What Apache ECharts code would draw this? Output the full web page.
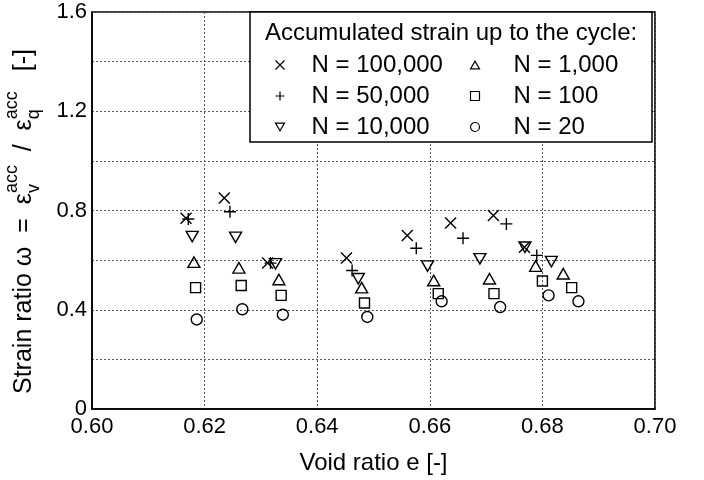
<!DOCTYPE html>
<html>
<head>
<meta charset="utf-8">
<script src="https://cdn.jsdelivr.net/npm/echarts@6/dist/echarts.min.js"></script>
<style>
html, body { margin: 0; padding: 0; background: #fff; }
#chart { width: 704px; height: 480px; }
</style>
</head>
<body>
<div id="chart"></div>
<script>
// cycle labels (legend) in the order of the series
var cycleNames = ['N = 100,000', 'N = 50,000', 'N = 10,000', 'N = 1,000', 'N = 100', 'N = 20'];

// void ratio e and strain ratio omega, one pair of arrays per N
var e100k = [0.6167, 0.6235, 0.6312, 0.6452, 0.6560, 0.6637, 0.6713, 0.6768];
var w100k = [0.769, 0.850, 0.588, 0.609, 0.699, 0.750, 0.780, 0.652];
var e50k = [0.6171, 0.6245, 0.6317, 0.6462, 0.6576, 0.6659, 0.6736, 0.6790];
var w50k = [0.766, 0.795, 0.588, 0.558, 0.648, 0.688, 0.746, 0.619];
var e10k = [0.6178, 0.6255, 0.6326, 0.6473, 0.6596, 0.6689, 0.6769, 0.6816];
var w10k = [0.695, 0.692, 0.585, 0.525, 0.576, 0.605, 0.652, 0.594];
var e1k = [0.6181, 0.6261, 0.6332, 0.6479, 0.6607, 0.6706, 0.6788, 0.6837];
var w1k = [0.592, 0.569, 0.522, 0.489, 0.518, 0.525, 0.576, 0.545];
var e100 = [0.6184, 0.6265, 0.6336, 0.6484, 0.6615, 0.6714, 0.6800, 0.6852];
var w100 = [0.489, 0.498, 0.458, 0.427, 0.465, 0.465, 0.516, 0.489];
var e20 = [0.6186, 0.6267, 0.6339, 0.6489, 0.6621, 0.6725, 0.6811, 0.6864];
var w20 = [0.361, 0.402, 0.380, 0.371, 0.434, 0.411, 0.458, 0.434];

var FONT = '"Liberation Sans", Arial, sans-serif';

function pairs(xs, ys) {
    return xs.map(function (x, i) { return [x, ys[i]]; });
}

var symbols = [
    'path://M0,0L10,10M10,0L0,10',          // x
    'path://M5,0L5,10M0,5L10,5',            // +
    'path://M0,0L12,0L6,10.4Z',             // down triangle
    'path://M6,0L12,10.4L0,10.4Z',          // up triangle
    'path://M0,0L10,0L10,10L0,10Z',         // square
    'circle'
];
var sizes = [11, 12, [12, 10.5], [12, 10.5], 10, 11];
var dataSets = [pairs(e100k, w100k), pairs(e50k, w50k), pairs(e10k, w10k),
                pairs(e1k, w1k), pairs(e100, w100), pairs(e20, w20)];

var series = cycleNames.map(function (name, i) {
    return {
        name: name,
        type: 'scatter',
        symbol: symbols[i],
        symbolSize: sizes[i],
        itemStyle: { color: 'none', borderColor: '#000', borderWidth: 1.4, opacity: 1 },
        emphasis: { disabled: true },
        data: dataSets[i]
    };
});

// y axis title with stacked super/subscripts, drawn rotated
var ctx = document.createElement('canvas').getContext('2d');
function textWidth(t, size) {
    ctx.font = size + 'px ' + FONT;
    return ctx.measureText(t).width;
}
var yParts = [];
var cursor = 0;
function put(t, size, dy) {
    yParts.push({
        type: 'text', x: cursor, y: dy,
        style: { text: t, fontSize: size, fontFamily: FONT, fill: '#000',
                 textAlign: 'left', textVerticalAlign: 'middle', align: 'left', verticalAlign: 'middle' }
    });
}
var mainSize = 25, smallSize = 18;
put('Strain ratio \u03c9  =  \u03b5', mainSize, 0);
cursor += textWidth('Strain ratio \u03c9  =  \u03b5', mainSize);
put('acc', smallSize, -12);
put('v', smallSize, 10);
cursor += textWidth('acc', smallSize);
put('  /  \u03b5', mainSize, 0);
cursor += textWidth('  /  \u03b5', mainSize);
put('acc', smallSize, -12);
put('q', smallSize, 10);
cursor += textWidth('acc', smallSize) + 20;
put('[-]', mainSize, 0);

function legendBlock(names, left, gap) {
    return {
        data: names,
        orient: 'vertical', left: left, top: 53, padding: 0,
        itemWidth: 9, itemHeight: 9, itemGap: 7, z: 6,
        selectedMode: false,
        itemStyle: { borderWidth: 1.2, borderColor: '#000' },
        textStyle: { fontSize: 24, fontFamily: FONT, color: '#000', lineHeight: 24,
                     rich: { g: { width: gap, height: 10 } } },
        formatter: function (n) { return '{g|}' + n; }
    };
}

var chart = echarts.init(document.getElementById('chart'));
var option = {
    animation: false,
    backgroundColor: '#fff',
    grid: {
        left: 92, right: 49, top: 12, bottom: 69,
        show: true, borderColor: '#000', borderWidth: 1.6, backgroundColor: 'transparent'
    },
    xAxis: {
        type: 'value',
        min: 0.6, max: 0.7, interval: 0.02,
        name: 'Void ratio e [-]',
        nameLocation: 'middle',
        nameGap: 42,
        nameTextStyle: { fontSize: 24, fontFamily: FONT, color: '#000' },
        axisLine: { show: true, lineStyle: { color: '#000', width: 1.6 } },
        axisTick: { show: false },
        axisLabel: {
            fontSize: 22, fontFamily: FONT, color: '#000', margin: 7,
            formatter: function (v) { return v.toFixed(2); }
        },
        splitLine: { show: true, lineStyle: { color: '#555', type: [2, 2], width: 1 } }
    },
    yAxis: {
        type: 'value',
        min: 0, max: 1.6, interval: 0.2,
        axisLine: { show: true, lineStyle: { color: '#000', width: 1.6 } },
        axisTick: { show: false },
        axisLabel: {
            fontSize: 22, fontFamily: FONT, color: '#000', margin: 5,
            formatter: function (v) {
                var r = Math.round(v * 10);
                if (r % 4 !== 0) return '';
                return r === 0 ? '0' : (r / 10).toFixed(1);
            }
        },
        splitLine: { show: true, lineStyle: { color: '#555', type: [2, 2], width: 1 } }
    },
    legend: [
        legendBlock(cycleNames.slice(0, 3), 273, 22),
        legendBlock(cycleNames.slice(3), 468, 29)
    ],
    graphic: [
        {
            type: 'rect', z: 5,
            shape: { x: 250, y: 12, width: 402, height: 130 },
            style: { fill: '#fff', stroke: '#000', lineWidth: 1.5 }
        },
        {
            type: 'text', z: 6, x: 265, y: 33,
            style: { text: 'Accumulated strain up to the cycle:', fontSize: 24, fontFamily: FONT, fill: '#000',
                     textVerticalAlign: 'middle', verticalAlign: 'middle' }
        },
        {
            type: 'group', x: 24, y: 394, rotation: Math.PI / 2,
            children: yParts
        }
    ],
    series: series
};
chart.setOption(option);
</script>
</body>
</html>
